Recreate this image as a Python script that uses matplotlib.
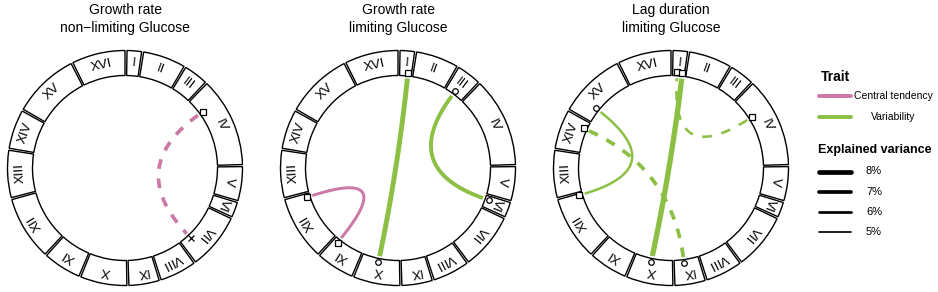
import numpy as np
import matplotlib
matplotlib.use('Agg')
import matplotlib.pyplot as plt
from matplotlib.patches import Wedge

plt.rcParams['font.family'] = ['Liberation Sans', 'DejaVu Sans']
plt.rcParams['lines.scale_dashes'] = False

# chromosome ring (sizes in kb)
chrom_names = ['I', 'II', 'III', 'IV', 'V', 'VI', 'VII', 'VIII',
               'IX', 'X', 'XI', 'XII', 'XIII', 'XIV', 'XV', 'XVI']
chrom_size_kb = [250, 735, 420, 1547, 588, 259, 966, 630,
                 525, 805, 658, 1103, 816, 676, 1145, 921]

titles = ['Growth rate\nnon\u2212limiting Glucose',
          'Growth rate\nlimiting Glucose',
          'Lag duration\nlimiting Glucose']

# links: (chrom A, pos A kb, chrom B, pos B kb)
p1_links = [('IV', 350, 'VII', 744)]
p1_trait = ['central']
p1_var = [7.0]
p1_dashed = [True]
p1_marks = [('s', 'x')]

p2_links = [('XII', 1026, 'XI', 559), ('III', 197, 'VI', 83), ('I', 175, 'X', 443)]
p2_trait = ['central', 'variability', 'variability']
p2_var = [6.3, 7.2, 8.2]
p2_dashed = [False, False, False]
p2_marks = [('s', 's'), ('o', 'o'), ('s', 'o')]

p3_links = [('IV', 480, 'I', 95), ('XIV', 514, 'IX', 315),
            ('XV', 298, 'XII', 1070), ('I', 205, 'X', 451)]
p3_trait = ['variability', 'variability', 'variability', 'variability']
p3_var = [5.9, 7.0, 5.8, 8.6]
p3_dashed = [True, True, False, False]
p3_marks = [('s', 's'), ('s', 'o'), ('o', 's'), ('s', 'o')]

legend_var = [8, 7, 6, 5]

colors = {'central': '#cc79a7', 'variability': '#8cc045'}

# geometry (pixel units, 100 dpi)
R_OUT, R_IN = 117.5, 92.5
R_LINK, R_MARK, R_LABEL = 90, 96, 105
GAP, START = 1.0, 1.0

scale = (360 - GAP * len(chrom_names)) / sum(chrom_size_kb)
starts = {}
a = START
for n, s in zip(chrom_names, chrom_size_kb):
    starts[n] = a
    a += s * scale + GAP


def pos_angle(chrom, kb):
    return starts[chrom] + kb * scale


def xy(phi, r):
    t = np.radians(phi)
    return r * np.sin(t), r * np.cos(t)


def var_width(v):
    return (v - 3.3) * 0.72


def draw_ring(ax):
    for n, s in zip(chrom_names, chrom_size_kb):
        p0 = starts[n]
        p1 = p0 + s * scale
        ax.add_patch(Wedge((0, 0), R_OUT, 90 - p1, 90 - p0, width=R_OUT - R_IN,
                           facecolor='white', edgecolor='black', lw=1.0, zorder=1))
        mid = (p0 + p1) / 2
        x, y = xy(mid, R_LABEL)
        ax.text(x, y, n, rotation=-mid, rotation_mode='anchor', ha='center',
                va='center', fontsize=9.5, zorder=2)


def draw_links(ax, links, traits, var, dashed, marks):
    t = np.linspace(0, 1, 200)[:, None]
    for (ca, pa, cb, pb), tr, v, d, mk in zip(links, traits, var, dashed, marks):
        fa, fb = pos_angle(ca, pa), pos_angle(cb, pb)
        P1 = np.array(xy(fa, R_LINK))
        P2 = np.array(xy(fb, R_LINK))
        C = np.array([0.0, 0.0])
        B = (1 - t) ** 2 * P1 + 2 * (1 - t) * t * C + t ** 2 * P2
        kw = dict(color=colors[tr], lw=var_width(v), solid_capstyle='butt',
                  dash_capstyle='butt', zorder=3)
        if d:
            ax.plot(B[:, 0], B[:, 1], dashes=(7, 7), **kw)
        else:
            ax.plot(B[:, 0], B[:, 1], **kw)
        for f, m in zip((fa, fb), mk):
            mx, my = xy(f, R_MARK)
            ax.plot(mx, my, marker=m, ms=4, mfc='white', mec='black', mew=0.9,
                    ls='none', zorder=4)


fig = plt.figure(figsize=(9.38, 2.92), dpi=100)

panels = [(p1_links, p1_trait, p1_var, p1_dashed, p1_marks),
          (p2_links, p2_trait, p2_var, p2_dashed, p2_marks),
          (p3_links, p3_trait, p3_var, p3_dashed, p3_marks)]

for i, (title, pdata) in enumerate(zip(titles, panels)):
    cx, cy = 125 + 273 * i, 168
    ax = fig.add_axes([(cx - 125) / 938, (292 - cy - 125) / 292, 250 / 938, 250 / 292])
    ax.set_xlim(-125, 125)
    ax.set_ylim(-125, 125)
    ax.set_axis_off()
    draw_ring(ax)
    draw_links(ax, *pdata)
    ax.text(0, 149, title, ha='center', va='center', fontsize=10,
            linespacing=1.35, clip_on=False)

# legend
lax = fig.add_axes([0, 0, 1, 1], zorder=-1)
lax.set_xlim(0, 938)
lax.set_ylim(292, 0)
lax.set_axis_off()
lax.text(821, 77, 'Trait', fontweight='bold', fontsize=10, va='center')
lax.plot([819, 851], [96, 96], color=colors['central'], lw=2.8, solid_capstyle='round')
lax.text(854, 96, 'Central tendency', fontsize=7.5, va='center')
lax.plot([819, 851], [117, 117], color=colors['variability'], lw=2.8, solid_capstyle='round')
lax.text(893, 117, 'Variability', fontsize=7.5, va='center', ha='center')
lax.text(818, 150, 'Explained variance', fontweight='bold', fontsize=9, va='center')
for k, v in enumerate(legend_var):
    y = 171.5 + 20.3 * k
    lax.plot([819, 851], [y, y], color='black', lw=var_width(v), solid_capstyle='round')
    lax.text(866, y, f'{v}%', fontsize=8, va='center')

fig.savefig('out.png', dpi=100)
